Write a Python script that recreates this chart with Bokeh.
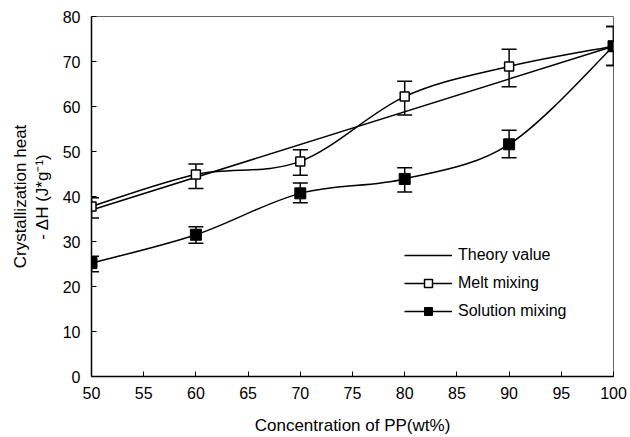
import numpy as np
from bokeh.plotting import figure
from bokeh.models import (ColumnDataSource, Whisker, TeeHead, Legend, LegendItem,
                          FixedTicker, Range1d, Title)
from bokeh.embed import file_html
from bokeh.resources import INLINE

# ---- data ----
conc = [50, 60, 70, 80, 90, 100]
theory_x = [50, 100]
theory_y = [37.0, 73.4]
melt_y = [37.8, 44.9, 47.8, 62.2, 68.9, 73.4]
melt_upper = [39.7, 47.2, 50.4, 65.6, 72.7, 77.8]
melt_lower = [35.2, 41.8, 44.7, 58.1, 64.4, 69.1]
sol_y = [25.2, 31.5, 40.7, 43.9, 51.6, 73.4]
sol_upper = [26.7, 33.3, 43.0, 46.4, 54.7, 77.8]
sol_lower = [23.3, 29.6, 38.6, 41.0, 48.6, 69.1]
x_ticks = [50, 55, 60, 65, 70, 75, 80, 85, 90, 95, 100]
y_ticks = [0, 10, 20, 30, 40, 50, 60, 70, 80]

FONT = "Liberation Sans"

p = figure(width=630, height=437, output_backend="svg", toolbar_location=None,
           x_range=Range1d(50, 100), y_range=Range1d(0, 80),
           min_border_left=91, min_border_right=17, min_border_top=16,
           min_border_bottom=61)
p.background_fill_color = "white"
p.border_fill_color = "white"
p.grid.visible = False
p.outline_line_color = "#666666"
p.outline_line_width = 1

for ax in (p.xaxis[0], p.yaxis[0]):
    ax.axis_line_color = "black"
    ax.axis_line_width = 1.5
    ax.major_tick_in = 5
    ax.major_tick_out = 0
    ax.major_tick_line_width = 1
    ax.minor_tick_line_color = None
    ax.major_label_text_font = FONT
    ax.major_label_text_font_size = "16px"
    ax.major_label_text_color = "black"
    ax.axis_label_text_font = FONT
    ax.axis_label_text_font_size = "17px"
    ax.axis_label_text_font_style = "normal"
    ax.axis_label_text_color = "black"

p.xaxis.ticker = FixedTicker(ticks=x_ticks)
p.yaxis.ticker = FixedTicker(ticks=y_ticks)
p.xaxis.major_label_standoff = 10
p.yaxis.major_label_standoff = 11
p.xaxis.axis_label = "Concentration of PP(wt%)"
p.xaxis.axis_label_standoff = 14
p.yaxis.axis_label = "- \u0394H (J*g\u207b\u00b9)"
p.yaxis.axis_label_standoff = 8

ylab1 = Title(text="Crystallization heat", align="center",
              text_font=FONT, text_font_size="17px",
              text_font_style="normal", text_color="black",
              standoff=0, offset=0)
p.add_layout(ylab1, "left")


def smooth_segments(xs, ys):
    """Catmull-Rom style Bezier control points (drawing helper)."""
    xs = np.asarray(xs, float)
    ys = np.asarray(ys, float)
    n = len(xs)
    px = np.concatenate([[xs[0]], xs, [xs[-1]]])
    py = np.concatenate([[ys[0]], ys, [ys[-1]]])
    d = dict(x0=[], y0=[], x1=[], y1=[], cx0=[], cy0=[], cx1=[], cy1=[])
    for i in range(n - 1):
        j = i + 1
        d["x0"].append(px[j]); d["y0"].append(py[j])
        d["x1"].append(px[j + 1]); d["y1"].append(py[j + 1])
        d["cx0"].append(px[j] + (px[j + 1] - px[j - 1]) / 6)
        d["cy0"].append(py[j] + (py[j + 1] - py[j - 1]) / 6)
        d["cx1"].append(px[j + 1] - (px[j + 2] - px[j]) / 6)
        d["cy1"].append(py[j + 1] - (py[j + 2] - py[j]) / 6)
    return ColumnDataSource(d)


LW = 1.5
# theory line
theory = p.line(theory_x, theory_y, line_color="black", line_width=LW)

# smoothed curves
p.bezier(x0="x0", y0="y0", x1="x1", y1="y1", cx0="cx0", cy0="cy0",
         cx1="cx1", cy1="cy1", source=smooth_segments(conc, melt_y),
         line_color="black", line_width=LW)
p.bezier(x0="x0", y0="y0", x1="x1", y1="y1", cx0="cx0", cy0="cy0",
         cx1="cx1", cy1="cy1", source=smooth_segments(conc, sol_y),
         line_color="black", line_width=LW)

# error bars
for up, lo in ((melt_upper, melt_lower), (sol_upper, sol_lower)):
    src = ColumnDataSource(dict(x=conc, upper=up, lower=lo))
    w = Whisker(source=src, base="x", upper="upper", lower="lower",
                line_color="black", line_width=LW,
                upper_head=TeeHead(size=15, line_color="black", line_width=LW),
                lower_head=TeeHead(size=15, line_color="black", line_width=LW))
    p.add_layout(w)

melt_pts = p.scatter(conc, melt_y, marker="square", size=9,
                     fill_color="white", line_color="black", line_width=1.5)
sol_pts = p.scatter(conc, sol_y, marker="square", size=11,
                    fill_color="black", line_color="black", line_width=1)

# one-point lines (draw nothing in the plot) used only for legend swatches
legend_line1 = p.line(x=conc[:1], y=melt_y[:1], line_color="black", line_width=LW)
legend_line2 = p.line(x=conc[:1], y=sol_y[:1], line_color="black", line_width=LW)

legend = Legend(items=[
    LegendItem(label="Theory value", renderers=[theory]),
    LegendItem(label="Melt mixing", renderers=[legend_line1, melt_pts]),
    LegendItem(label="Solution mixing", renderers=[legend_line2, sol_pts]),
], location=(313, 55))
legend.glyph_width = 48
legend.glyph_height = 20
legend.label_height = 20
legend.spacing = 8
legend.padding = 0
legend.margin = 0
legend.label_standoff = 6
legend.border_line_color = None
legend.background_fill_alpha = 0
legend.label_text_font = FONT
legend.label_text_font_size = "16px"
legend.label_text_color = "black"
p.add_layout(legend, "center")

open("out.html", "w").write(file_html(p, INLINE))
